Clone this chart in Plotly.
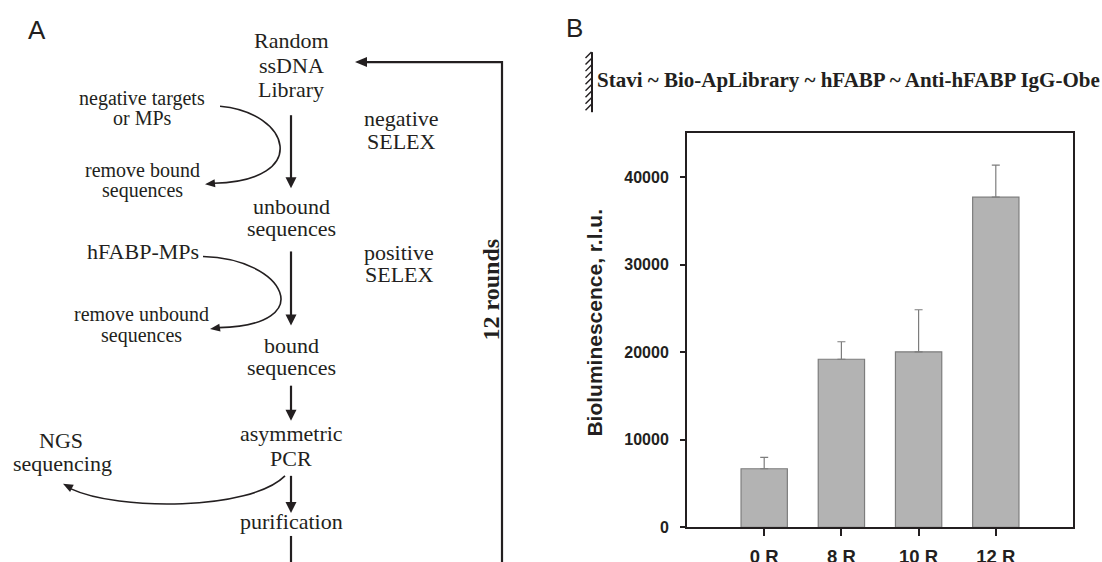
import plotly.graph_objects as go
import math

W, H = 1102, 562          # target picture size (reference pixel space)
HF = 572                   # figure height (compensates the vertical squeeze of the capture)

# ---------------- data (panel B) ----------------
rounds = ['0 R', '8 R', '10 R', '12 R']
signal = [6700, 19200, 20050, 37700]
signal_err = [1300, 2000, 4800, 3650]
y_ticks = [0, 10000, 20000, 30000, 40000]

header = 'Stavi ~ Bio-ApLibrary ~ hFABP ~ Anti-hFABP IgG-Obe'
y_title = 'Bioluminescence, r.l.u.'

INK = '#231f20'
SERIF = 'Liberation Serif, Times New Roman, serif'
SANS = 'Liberation Sans, Arial, sans-serif'


def px(x):
    return x / W


def py(y):
    return 1 - y / H


def pt(p):
    return f'{px(p[0]):.5f},{py(p[1]):.5f}'


shapes = []
annotations = []


def add_path(cmds, width=2.0, fill=None, color=INK):
    s = ''
    for c in cmds:
        s += c[0] + ' ' + ' '.join(pt(p) for p in c[1:]) + ' '
    if fill:
        s += 'Z'
    shapes.append(dict(type='path', xref='paper', yref='paper', path=s.strip(),
                       line=dict(color=color, width=0 if fill else width),
                       fillcolor=fill if fill else 'rgba(0,0,0,0)'))


def add_head(tip, d, L=11, hw=5.5):
    n = math.hypot(d[0], d[1])
    dx, dy = d[0] / n, d[1] / n
    bx, by = tip[0] - L * dx, tip[1] - L * dy
    nx, ny = -dy, dx
    p1 = (bx + hw * nx, by + hw * ny)
    p2 = (bx - hw * nx, by - hw * ny)
    add_path([('M', tip), ('L', p1), ('L', p2)], fill=INK)


def down_arrow(x, y0, tip):
    add_path([('M', (x, y0)), ('L', (x, tip - 9))], width=2.2)
    add_head((x, tip), (0, 1), L=11, hw=5.5)


def txt(text, x, y, size, family=SERIF, bold=False, xanchor='center', angle=0):
    annotations.append(dict(text=text, x=px(x), y=py(y), xref='paper', yref='paper',
                            showarrow=False, xanchor=xanchor, yanchor='middle',
                            textangle=angle,
                            font=dict(family=family, size=size, color=INK,
                                      weight='bold' if bold else 'normal')))


# ---------------- panel A: flow diagram ----------------
txt('A', 37, 30, 26, SANS)

cx = 291
for t, y in [('Random', 40), ('ssDNA', 65.5), ('Library', 89.5),
             ('unbound', 206), ('sequences', 228),
             ('bound', 345), ('sequences', 367),
             ('asymmetric', 433), ('PCR', 458),
             ('purification', 521)]:
    txt(t, cx, y, 22)

for t, x, y, s in [('negative targets', 142, 98, 20), ('or MPs', 142, 118, 20),
                   ('remove bound', 142, 170, 20), ('sequences', 142, 190, 20),
                   ('hFABP-MPs', 143, 251, 22),
                   ('remove unbound', 141, 313, 20), ('sequences', 141, 335, 20),
                   ('NGS', 61, 440, 22), ('sequencing', 62, 463, 22),
                   ('negative', 401, 118, 22), ('SELEX', 401, 141, 22),
                   ('positive', 399, 252, 22), ('SELEX', 399, 274, 22)]:
    txt(t, x, y, s)

txt('12 rounds', 491, 289, 24, bold=True, angle=-90)

# vertical flow arrows
down_arrow(cx, 115, 188)
down_arrow(cx, 251, 325)
down_arrow(cx, 385, 420)
down_arrow(cx, 475, 512)
add_path([('M', (cx, 535)), ('L', (cx, 563))], width=2.2)

# loop back line
add_path([('M', (502, 563)), ('L', (502, 62)), ('L', (366, 62))], width=2.2)
add_head((355, 62), (-1, 0), L=12, hw=5)

# curved side arrows
add_path([('M', (220, 106)), ('C', (290, 112), (312, 180), (214, 183))], width=1.6)
add_head((205, 184), (-1, 0.1), L=10, hw=4)

add_path([('M', (203, 256)), ('C', (285, 258), (320, 325), (219, 327))], width=1.6)
add_head((210, 328.5), (-1, 0.15), L=10, hw=4)

add_path([('M', (285, 475)), ('C', (250, 510), (118, 510), (71, 488))], width=1.6)
add_head((63, 483), (-47, -24), L=10, hw=4)

# ---------------- panel B ----------------
txt('B', 574, 28, 26, SANS)
txt(header, 848, 80, 21, bold=True)

# hatched wall symbol
add_path([('M', (592, 52)), ('L', (592, 112))], width=2)
yy = 52
while yy < 108:
    add_path([('M', (591.5, yy)), ('L', (585.5, yy + 6))], width=1.4)
    yy += 6.5

txt(y_title, 595, 322, 21, SANS, bold=True, angle=-90)

fig = go.Figure()
fig.add_trace(go.Bar(
    x=rounds, y=signal, width=0.6,
    marker=dict(color='#b3b3b3', line=dict(color='#7d7d7d', width=1.2)),
    error_y=dict(type='data', symmetric=False, array=signal_err,
                 arrayminus=[0] * len(signal_err), color='#7d7d7d',
                 thickness=1.2, width=4),
    hoverinfo='skip'))

fig.update_layout(
    width=W, height=HF, margin=dict(l=0, r=0, t=0, b=0),
    paper_bgcolor='white', plot_bgcolor='white', showlegend=False,
    shapes=shapes, annotations=annotations,
    xaxis=dict(domain=[687 / W, 1073 / W], range=[-1, 4], type='category',
               showline=True, linewidth=2, linecolor=INK, mirror=True,
               ticks='outside', ticklen=7, tickwidth=2, tickcolor=INK,
               ticklabelstandoff=4,
               tickfont=dict(family=SANS, size=18.5, color=INK, weight='bold'),
               showgrid=False, zeroline=False, fixedrange=True),
    yaxis=dict(domain=[1 - 526.5 / H, 1 - 133 / H], range=[0, 45000],
               tickvals=y_ticks, tickformat='d',
               showline=True, linewidth=2, linecolor=INK, mirror=True,
               ticks='outside', ticklen=5, tickwidth=2, tickcolor=INK,
               ticklabelstandoff=8,
               tickfont=dict(family=SANS, size=16, color=INK, weight='bold'),
               showgrid=False, zeroline=False, fixedrange=True),
)

fig.write_html(
    'out.html',
    config={'displayModeBar': False, 'responsive': False},
    post_script=("document.documentElement.style.margin='0';"
                 "document.body.style.margin='0';"),
)
